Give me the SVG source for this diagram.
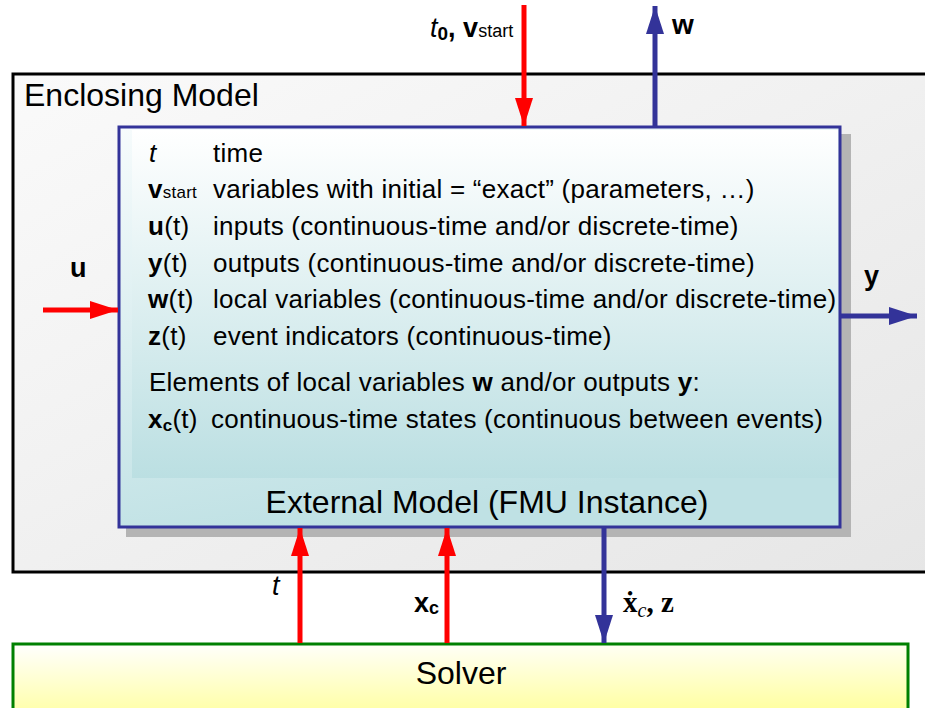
<svg xmlns="http://www.w3.org/2000/svg" width="925" height="708" viewBox="0 0 925 708">
<style>
text{font-family:"Liberation Sans",Arial,sans-serif;fill:#000}
.b{font-weight:bold}
.it{font-style:italic}
.row{font-size:26px;letter-spacing:0.25px}
.sub{font-size:17px}
.big{font-size:32px}
.red{stroke:#ff0000;stroke-width:5;fill:none}
.blue{stroke:#333399;stroke-width:5;fill:none}
.math{font-family:"Liberation Serif","Times New Roman",serif}
</style>
<defs>
<linearGradient id="gEnc" x1="0" y1="0" x2="1" y2="1">
<stop offset="0" stop-color="#fafafa"/><stop offset="1" stop-color="#e6e6e6"/>
</linearGradient>
<linearGradient id="gFmu" x1="0" y1="0" x2="0.3" y2="1">
<stop offset="0" stop-color="#f6fbfc"/><stop offset="1" stop-color="#bfe1e4"/>
</linearGradient>
<linearGradient id="gTxt" x1="0" y1="0" x2="0" y2="1">
<stop offset="0" stop-color="#ffffff"/><stop offset="1" stop-color="#bbdfe2"/>
</linearGradient>
<linearGradient id="gSol" x1="0" y1="0" x2="0.15" y2="1">
<stop offset="0" stop-color="#ffffff"/><stop offset="1" stop-color="#ffff99"/>
</linearGradient>
<marker id="hr" markerUnits="userSpaceOnUse" markerWidth="30" markerHeight="20" refX="28" refY="9" orient="auto">
<path d="M0,0 L28,9 L0,18 z" fill="#ff0000"/>
</marker>
<marker id="hb" markerUnits="userSpaceOnUse" markerWidth="30" markerHeight="20" refX="28" refY="9" orient="auto">
<path d="M0,0 L28,9 L0,18 z" fill="#333399"/>
</marker>
</defs>

<g id="enclosing">
<rect x="13" y="74" width="925" height="498" fill="url(#gEnc)" stroke="#000" stroke-width="3"/>
<text x="24" y="106" class="big">Enclosing Model</text>
</g>

<g id="fmu">
<rect x="126" y="134" width="725" height="403" fill="#b4b4b4"/>
<rect x="119" y="127" width="721" height="400" fill="url(#gFmu)" stroke="#333399" stroke-width="3"/>
<rect x="132" y="130" width="706" height="348" fill="url(#gTxt)"/>
<text x="149" y="162" class="row"><tspan class="it">t</tspan><tspan x="213">time</tspan></text>
<text x="148" y="198" class="row"><tspan class="b">v</tspan><tspan class="sub">start</tspan><tspan x="213">variables with initial = “exact” (parameters, …)</tspan></text>
<text x="148" y="235" class="row"><tspan class="b">u</tspan>(t)<tspan x="213">inputs (continuous-time and/or discrete-time)</tspan></text>
<text x="148" y="272" class="row"><tspan class="b">y</tspan>(t)<tspan x="213">outputs (continuous-time and/or discrete-time)</tspan></text>
<text x="148" y="308" class="row"><tspan class="b">w</tspan>(t)<tspan x="213">local variables (continuous-time and/or discrete-time)</tspan></text>
<text x="148" y="345" class="row"><tspan class="b">z</tspan>(t)<tspan x="213">event indicators (continuous-time)</tspan></text>
<text x="149" y="391" class="row">Elements of local variables <tspan class="b">w</tspan> and/or outputs <tspan class="b">y</tspan>:</text>
<text x="148" y="428" class="row"><tspan class="b">x</tspan><tspan class="b sub" dy="3">c</tspan><tspan dy="-3">(t)</tspan><tspan x="211">continuous-time states (continuous between events)</tspan></text>
<text x="487" y="513" class="big" text-anchor="middle">External Model (FMU Instance)</text>
</g>

<g id="solver">
<rect x="13" y="644" width="895" height="80" fill="url(#gSol)" stroke="#008000" stroke-width="3"/>
<text x="461" y="684" class="big" text-anchor="middle">Solver</text>
</g>

<g id="connectors">
<line x1="524" y1="5" x2="524" y2="126" class="red" marker-end="url(#hr)"/>
<line x1="655" y1="127" x2="655" y2="6" class="blue" marker-end="url(#hb)"/>
<line x1="43" y1="310" x2="118" y2="310" class="red" marker-end="url(#hr)"/>
<line x1="840" y1="316" x2="917" y2="316" class="blue" marker-end="url(#hb)"/>
<line x1="300" y1="643" x2="300" y2="528" class="red" marker-end="url(#hr)"/>
<line x1="447" y1="643" x2="447" y2="528" class="red" marker-end="url(#hr)"/>
<line x1="604" y1="527" x2="604" y2="643" class="blue" marker-end="url(#hb)"/>
</g>

<g id="labels">
<text x="430" y="37" font-size="27"><tspan class="it">t</tspan><tspan class="b" font-size="19" dy="3">0</tspan><tspan class="b" dy="-3">, v</tspan><tspan font-size="18">start</tspan></text>
<text x="672" y="34" font-size="28" class="b">w</text>
<text x="70" y="277" font-size="27" class="b">u</text>
<text x="864" y="285" font-size="27" class="b">y</text>
<text x="272" y="595" font-size="27" class="it">t</text>
<text x="414" y="612" font-size="27"><tspan class="b">x</tspan><tspan class="b" font-size="18" dy="2">c</tspan></text>
<text x="623" y="612" font-size="29" class="math"><tspan font-weight="bold">ẋ</tspan><tspan font-style="italic" font-size="20" dy="5">c</tspan><tspan font-weight="bold" dy="-5">, z</tspan></text>
</g>
</svg>
